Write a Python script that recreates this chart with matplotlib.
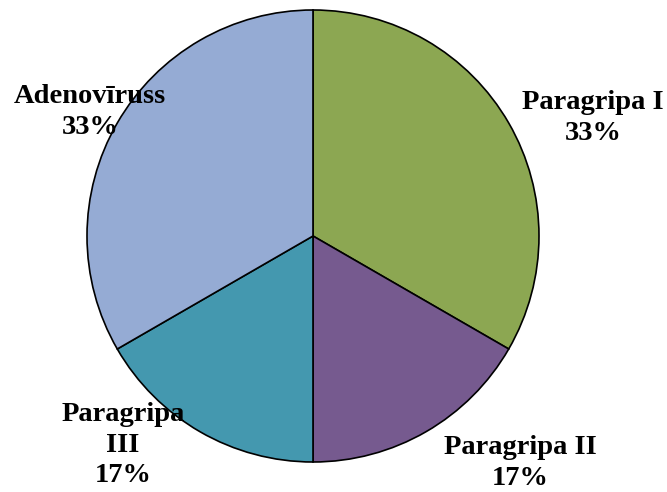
import matplotlib
matplotlib.use("Agg")
import matplotlib.pyplot as plt

categories = ["Paragripa I", "Paragripa II", "Paragripa\nIII", "Adenovīruss"]
values = [2, 1, 1, 2]
colors = ["#8CA752", "#765A8F", "#4498AF", "#95ABD4"]
label_pos = [(593, 374), (520, 29), (123, 47), (90, 380)]

fig = plt.figure(figsize=(6.67, 4.92), dpi=100)
ax = fig.add_axes([0, 0, 1, 1])
ax.pie(values, colors=colors, startangle=90, counterclock=False,
       center=(313, 256), radius=226,
       wedgeprops=dict(edgecolor="black", linewidth=1.2))
ax.set_xlim(0, 667)
ax.set_ylim(0, 492)
ax.set_aspect("auto")
ax.axis("off")

total = sum(values)
for cat, v, (x, y) in zip(categories, values, label_pos):
    ax.text(x, y, f"{cat}\n{round(100 * v / total)}%", ha="center", va="center",
            fontsize=20.5, fontweight="bold", family="Liberation Serif",
            linespacing=1.3)

fig.savefig("out.png", dpi=100)
